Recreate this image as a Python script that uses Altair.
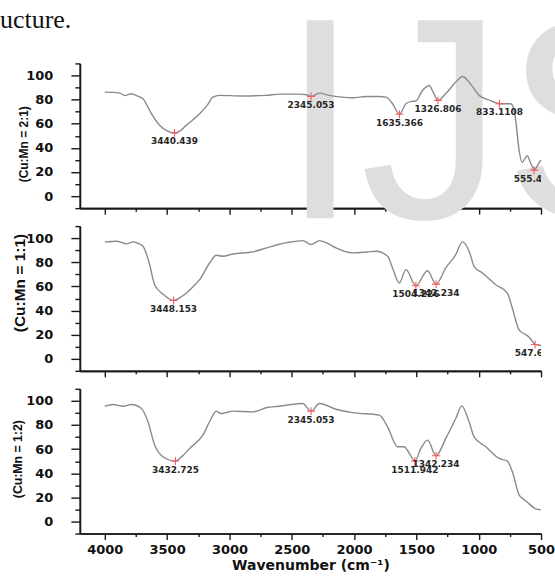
import altair as alt
import pandas as pd

# ---- FTIR spectra: wavenumber (cm-1) and transmittance (%) ----
wn_21 = [4000, 3940, 3880, 3840, 3786, 3740, 3693, 3660, 3626, 3560,
         3500, 3440.439, 3390, 3346, 3290, 3239, 3180, 3133, 3079, 2900,
         2705, 2600, 2450, 2380, 2345.053, 2300, 2278, 2200, 2100, 2011,
         1900, 1800, 1744, 1691, 1635.366, 1584, 1540, 1504, 1451, 1420,
         1397, 1365, 1326.806, 1264, 1184, 1130, 1077, 1030, 997, 900,
         833.1108, 780, 743, 716, 700, 676, 650, 630, 610, 590,
         570, 555.466, 530, 503]
t_21 = [86.2, 86.0, 85.4, 83.4, 84.9, 83.0, 80.7, 75.0, 68.3, 58.7,
        54.0, 52.3, 54.5, 58.7, 63.5, 68.3, 75.0, 82.0, 83.5, 83.0,
        83.5, 84.5, 84.5, 84.0, 82.6, 84.5, 85.4, 83.5, 82.0, 81.5,
        82.5, 82.5, 82.0, 76.6, 67.8, 76.6, 78.5, 78.8, 87.6, 90.5,
        91.7, 86.0, 79.3, 85.0, 94.5, 99.2, 94.5, 88.0, 83.5, 79.0,
        76.6, 76.5, 76.6, 71.0, 60.0, 38.0, 28.0, 31.0, 33.5, 29.0,
        24.5, 21.5, 25.0, 29.8]

wn_11 = [4000, 3906, 3850, 3826, 3773, 3740, 3693, 3660, 3640, 3600,
         3533, 3448.153, 3400, 3346, 3290, 3239, 3159, 3106, 3053, 2973,
         2813, 2700, 2600, 2545, 2412, 2345, 2278, 2200, 2145, 2011,
         1900, 1824, 1731, 1691, 1637, 1584, 1504.226, 1411, 1342.234, 1264,
         1184, 1130, 1077, 1037, 970, 863, 770, 730, 676, 640,
         610, 580, 547.698, 500]
t_11 = [96.9, 97.5, 96.0, 95.3, 96.9, 96.0, 93.3, 85.0, 78.0, 61.4,
        53.6, 48.3, 50.5, 54.4, 60.0, 65.6, 79.4, 85.8, 85.0, 86.9,
        88.6, 92.0, 95.0, 96.1, 98.0, 94.7, 98.0, 95.0, 91.9, 87.8,
        88.5, 89.2, 85.0, 75.3, 62.8, 73.9, 60.6, 73.0, 61.9, 75.3,
        86.4, 96.9, 89.2, 76.7, 71.1, 61.4, 54.4, 41.9, 23.9, 21.0,
        19.2, 16.0, 11.9, 11.0]

wn_12 = [4000, 3933, 3853, 3786, 3706, 3653, 3600, 3533, 3432.725, 3380,
         3319, 3213, 3146, 3106, 3066, 3026, 2973, 2813, 2700, 2599,
         2545, 2412, 2345.053, 2278, 2145, 2011, 1798, 1731, 1651, 1597,
         1557, 1511.942, 1464, 1410, 1342.234, 1264, 1184, 1136, 1077, 1037,
         943, 836, 770, 730, 676, 640, 610, 543, 503]
t_12 = [95.6, 97.0, 95.6, 97.0, 93.7, 82.6, 63.4, 53.7, 50.1, 54.0,
        60.6, 71.6, 85.4, 91.5, 89.5, 90.3, 91.5, 90.9, 94.5, 95.6,
        96.4, 97.8, 91.5, 97.8, 93.1, 90.3, 88.2, 78.5, 62.0, 62.0,
        56.5, 50.1, 60.6, 67.5, 54.5, 68.9, 85.4, 95.9, 82.6, 70.2,
        62.0, 52.3, 50.1, 41.3, 22.1, 18.5, 16.0, 10.5, 9.7]

# ---- annotated band positions ----
peaks_21 = ["3440.439", "2345.053", "1635.366", "1326.806", "833.1108", "555.466"]
peaks_11 = ["3448.153", "1504.226", "1342.234", "547.698"]
peaks_12 = ["3432.725", "2345.053", "1511.942", "1342.234"]

# ---- axis tick values ----
x_major = [4000, 3500, 3000, 2500, 2000, 1500, 1000, 500]
x_minor = [3750, 3250, 2750, 2250, 1750, 1250, 750]
y_major = [0, 20, 40, 60, 80, 100]
y_minor = [-10, 10, 30, 50, 70, 90, 110]

W, H = 462, 145
AX = "#1a1a1a"
TICK_FONT = "DejaVu Sans"


def base_axis(**kw):
    return alt.Axis(grid=False, domainColor=AX, domainWidth=1.6, tickColor=AX,
                    tickWidth=1.4, labelFlush=False, labelOverlap=False, format="d", **kw)


def panel(wn, t, labels, ytitle, tsize, tx, ty, last=False, extras=()):
    curve = pd.DataFrame({"wn": wn, "t": t})
    lookup = dict(zip(wn, t))
    pk_wn = [float(s) for s in labels]
    peaks = pd.DataFrame({"wn": pk_wn, "t": [lookup[w] for w in pk_wn], "lbl": labels})

    xs = alt.Scale(domain=[500, 4200], reverse=True, nice=False, zero=False)
    ys = alt.Scale(domain=[-10, 110], nice=False, zero=False)

    if last:
        xa = base_axis(values=x_major, tickSize=6, labels=True, labelFont=TICK_FONT,
                       labelFontWeight="bold", labelFontSize=13, labelColor="#111",
                       labelPadding=4, title="Wavenumber (cm⁻¹)", titleFont=TICK_FONT,
                       titleFontWeight="bold", titleFontSize=14, titleColor="#111",
                       titleX=231, titleY=32, titleBaseline="middle", titleAlign="center")
    else:
        xa = base_axis(values=x_major, tickSize=6, labels=False, title=None)
    ya = base_axis(values=y_major, tickSize=9, labelFont=TICK_FONT, labelFontWeight="bold",
                   labelFontSize=13, labelColor="#111", labelPadding=18,
                   title=ytitle, titleFont="Liberation Sans", titleFontWeight="bold",
                   titleFontSize=tsize, titleColor="#111", titleX=tx, titleY=ty,
                   titleBaseline="middle", titleAlign="center")
    xm = base_axis(values=x_minor, tickSize=3, labels=False, title=None, orient="bottom")
    ym = base_axis(values=y_minor, tickSize=5, labels=False, title=None, orient="left")

    line = alt.Chart(curve).mark_line(color="#8a8a8a", strokeWidth=1.4,
                                      interpolate="monotone").encode(
        x=alt.X("wn:Q", scale=xs, axis=xa),
        y=alt.Y("t:Q", scale=ys, axis=ya),
    )
    marks = alt.Chart(peaks).mark_point(shape="M-1,0L1,0M0,-1L0,1", filled=False,
                                        color="#ff5a5a", strokeWidth=1.1, size=64,
                                        opacity=1).encode(
        x=alt.X("wn:Q", scale=xs, axis=xm),
        y=alt.Y("t:Q", scale=ys, axis=ym),
    )
    text = alt.Chart(peaks).mark_text(font=TICK_FONT, fontWeight="bold", fontSize=9,
                                      color="#262626", baseline="middle", dy=8.5,
                                      clip=True).encode(
        x=alt.X("wn:Q", scale=xs, axis=None),
        y=alt.Y("t:Q", scale=ys, axis=None),
        text="lbl:N",
    )
    return alt.layer(*extras, line, marks, text).resolve_axis(
        x="independent", y="independent").properties(width=W, height=H)


# page elements around the figure
page = pd.DataFrame({"s": ["IJS"]})
watermark = alt.Chart(page).mark_text(font="Liberation Sans", fontSize=288, color="#dedede",
                                      align="left", baseline="alphabetic").encode(
    text="s:N", x=alt.value(200.7), y=alt.value(155))
caption = alt.Chart(pd.DataFrame({"s": ["ucture."]})).mark_text(
    font="Liberation Serif", fontSize=26, color="#111", align="left",
    baseline="alphabetic").encode(text="s:N", x=alt.value(-80), y=alt.value(-35.5))

p1 = panel(wn_21, t_21, peaks_21, "(Cu:Mn = 2:1)", 12, -56, 80.5, extras=(watermark, caption))
p2 = panel(wn_11, t_11, peaks_11, "(Cu:Mn = 1:1)", 15.5, -60, 56.5)
p3 = panel(wn_12, t_12, peaks_12, "(Cu:Mn = 1:2)", 12.3, -62, 70, last=True)

chart = alt.vconcat(p1, p2, p3, spacing=18, bounds="flush").configure_view(
    stroke=None).properties(
    padding={"left": 0, "top": -12, "right": -141, "bottom": 2}, background="white")

chart.save("out.html", embed_options={"renderer": "svg", "actions": False})
